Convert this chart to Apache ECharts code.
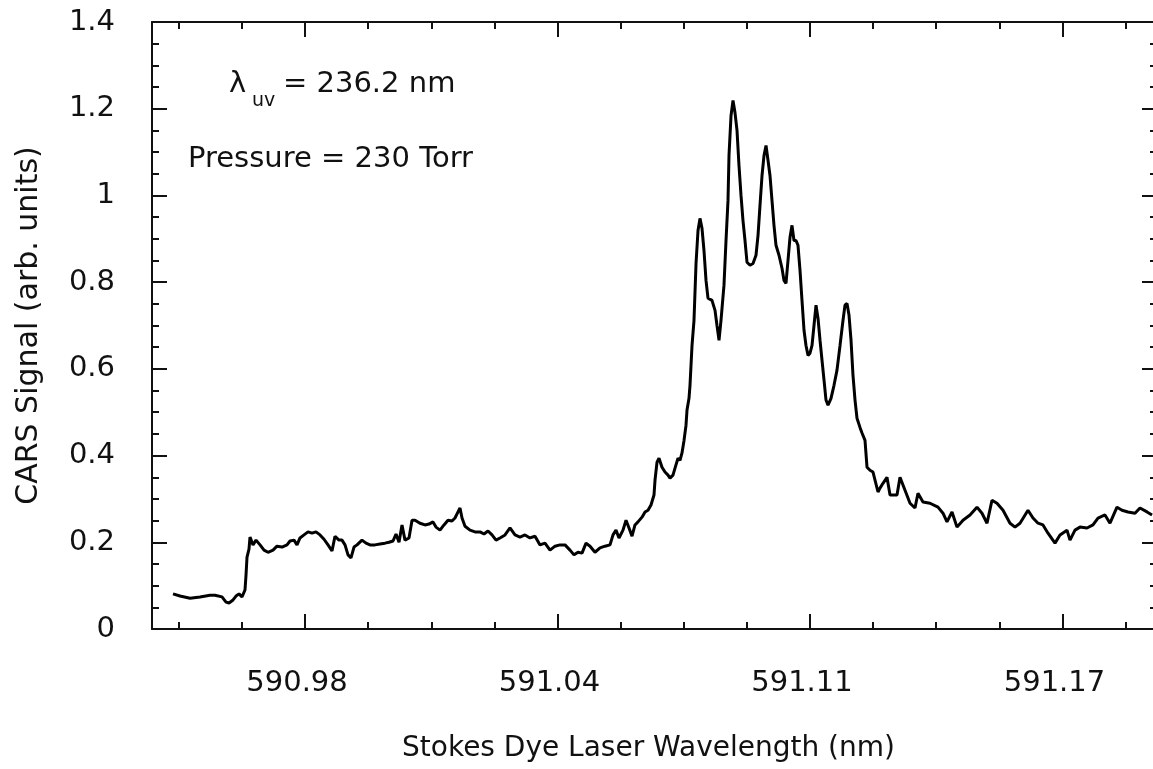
<!DOCTYPE html>
<html>
<head>
<meta charset="utf-8">
<title>CARS Signal vs Stokes Dye Laser Wavelength</title>
<script src="https://cdn.jsdelivr.net/npm/echarts@6/dist/echarts.min.js"></script>
<style>
  html, body { margin: 0; padding: 0; background: #fff; }
  #chart { width: 1153px; height: 769px; }
</style>
</head>
<body>
<div id="chart"></div>
<script>
// Stokes dye laser wavelength (nm)
const wavelength = [
  590.94602, 590.94782, 590.95040, 590.95297, 590.95554, 590.95683, 590.95863, 590.95966, 590.96044, 590.96147,
  590.96224, 590.96301, 590.96378, 590.96455, 590.96481, 590.96507, 590.96558, 590.96584, 590.96661, 590.96739,
  590.96842, 590.96945, 590.97048, 590.97176, 590.97279, 590.97408, 590.97537, 590.97614, 590.97717, 590.97794,
  590.97871, 590.97974, 590.98077, 590.98180, 590.98283, 590.98386, 590.98489, 590.98592, 590.98695, 590.98772,
  590.98875, 590.98952, 590.99030, 590.99107, 590.99184, 590.99261, 590.99339, 590.99467, 590.99570, 590.99673,
  590.99802, 590.99931, 591.00059, 591.00162, 591.00265, 591.00343, 591.00420, 591.00497, 591.00574, 591.00677,
  591.00755, 591.00832, 591.00960, 591.01089, 591.01192, 591.01295, 591.01372, 591.01475, 591.01578, 591.01681,
  591.01784, 591.01861, 591.01939, 591.01990, 591.02042, 591.02119, 591.02248, 591.02376, 591.02505, 591.02608,
  591.02711, 591.02814, 591.02917, 591.03020, 591.03149, 591.03277, 591.03406, 591.03535, 591.03663, 591.03792,
  591.03921, 591.04050, 591.04178, 591.04307, 591.04436, 591.04564, 591.04693, 591.04822, 591.04925, 591.05028,
  591.05131, 591.05234, 591.05337, 591.05465, 591.05594, 591.05723, 591.05852, 591.05929, 591.06006, 591.06083,
  591.06186, 591.06264, 591.06341, 591.06418, 591.06495, 591.06572, 591.06675, 591.06753, 591.06830, 591.06907,
  591.06984, 591.07010, 591.07062, 591.07113, 591.07190, 591.07267, 591.07345, 591.07396, 591.07473, 591.07525,
  591.07602, 591.07654, 591.07705, 591.07757, 591.07808, 591.07834, 591.07885, 591.07911, 591.07963, 591.08014,
  591.08066, 591.08117, 591.08168, 591.08220, 591.08271, 591.08323, 591.08374, 591.08477, 591.08555, 591.08606,
  591.08658, 591.08709, 591.08786, 591.08838, 591.08889, 591.08915, 591.08967, 591.09018, 591.09069, 591.09121,
  591.09172, 591.09224, 591.09275, 591.09327, 591.09378, 591.09456, 591.09533, 591.09610, 591.09662, 591.09713,
  591.09765, 591.09816, 591.09868, 591.09919, 591.09970, 591.10022, 591.10073, 591.10125, 591.10202, 591.10279,
  591.10331, 591.10382, 591.10434, 591.10485, 591.10537, 591.10588, 591.10640, 591.10691, 591.10743, 591.10794,
  591.10846, 591.10897, 591.10949, 591.11000, 591.11052, 591.11103, 591.11155, 591.11206, 591.11258, 591.11309,
  591.11361, 591.11412, 591.11464, 591.11541, 591.11618, 591.11695, 591.11773, 591.11850, 591.11901, 591.11953,
  591.12004, 591.12056, 591.12107, 591.12159, 591.12210, 591.12287, 591.12339, 591.12416, 591.12468, 591.12545,
  591.12622, 591.12751, 591.12802, 591.12879, 591.12982, 591.13060, 591.13240, 591.13317, 591.13446, 591.13575,
  591.13703, 591.13780, 591.13909, 591.14089, 591.14295, 591.14424, 591.14527, 591.14656, 591.14784, 591.14939,
  591.15119, 591.15299, 591.15428, 591.15557, 591.15685, 591.15814, 591.15969, 591.16149, 591.16278, 591.16406,
  591.16612, 591.16741, 591.16870, 591.16998, 591.17127, 591.17307, 591.17436, 591.17616, 591.17693, 591.17822,
  591.17951, 591.18131, 591.18285, 591.18414, 591.18594, 591.18723, 591.18903, 591.19032, 591.19186, 591.19367,
  591.19495, 591.19676, 591.19805
];

// CARS signal (arb. units)
const signal = [
  0.081, 0.076, 0.071, 0.074, 0.078, 0.078, 0.074, 0.062, 0.060, 0.067,
  0.076, 0.081, 0.074, 0.090, 0.124, 0.166, 0.184, 0.212, 0.194, 0.205,
  0.194, 0.182, 0.177, 0.182, 0.191, 0.189, 0.194, 0.203, 0.205, 0.194,
  0.210, 0.217, 0.224, 0.221, 0.224, 0.217, 0.207, 0.194, 0.180, 0.214,
  0.205, 0.205, 0.194, 0.171, 0.164, 0.189, 0.194, 0.205, 0.198, 0.194,
  0.194, 0.196, 0.198, 0.200, 0.203, 0.219, 0.200, 0.240, 0.205, 0.210,
  0.251, 0.251, 0.244, 0.240, 0.242, 0.247, 0.235, 0.228, 0.240, 0.251,
  0.249, 0.256, 0.270, 0.279, 0.256, 0.237, 0.228, 0.224, 0.224, 0.219,
  0.226, 0.217, 0.205, 0.210, 0.217, 0.233, 0.217, 0.212, 0.217, 0.210,
  0.214, 0.194, 0.198, 0.182, 0.191, 0.194, 0.194, 0.182, 0.171, 0.177,
  0.175, 0.198, 0.191, 0.177, 0.187, 0.191, 0.194, 0.217, 0.228, 0.210,
  0.228, 0.251, 0.233, 0.214, 0.240, 0.247, 0.258, 0.270, 0.274, 0.286,
  0.309, 0.343, 0.385, 0.394, 0.373, 0.362, 0.355, 0.348, 0.355, 0.371,
  0.394, 0.389, 0.406, 0.435, 0.470, 0.505, 0.532, 0.562, 0.654, 0.712,
  0.843, 0.919, 0.947, 0.924, 0.873, 0.804, 0.763, 0.758, 0.735, 0.700,
  0.666, 0.712, 0.793, 0.896, 0.988, 1.092, 1.184, 1.219, 1.191, 1.150,
  1.069, 1.000, 0.942, 0.896, 0.846, 0.839, 0.843, 0.862, 0.908, 0.977,
  1.046, 1.092, 1.115, 1.081, 1.046, 0.988, 0.931, 0.885, 0.862, 0.832,
  0.804, 0.797, 0.850, 0.903, 0.931, 0.896, 0.896, 0.885, 0.827, 0.758,
  0.689, 0.654, 0.631, 0.636, 0.654, 0.700, 0.747, 0.717, 0.666, 0.620,
  0.574, 0.528, 0.516, 0.532, 0.562, 0.597, 0.654, 0.712, 0.747, 0.751,
  0.724, 0.666, 0.585, 0.528, 0.486, 0.465, 0.452, 0.435, 0.373, 0.366,
  0.362, 0.316, 0.325, 0.336, 0.350, 0.309, 0.309, 0.350, 0.320, 0.290,
  0.279, 0.313, 0.293, 0.290, 0.281, 0.267, 0.247, 0.270, 0.235, 0.251,
  0.263, 0.281, 0.267, 0.244, 0.297, 0.290, 0.274, 0.244, 0.235, 0.244,
  0.274, 0.256, 0.244, 0.240, 0.221, 0.198, 0.217, 0.228, 0.205, 0.228,
  0.235, 0.233, 0.240, 0.256, 0.263, 0.244, 0.281, 0.274, 0.270, 0.267,
  0.279, 0.270, 0.263
];

// Wavelength axis range and ticks
const xRange = [590.94061, 591.19933];
const xMajorTicks = [590.98, 591.045, 591.11, 591.175];
const xTickLabels = ['590.98', '591.04', '591.11', '591.17'];
const xMinorTicks = [
  590.9475, 590.96375, 590.99625, 591.0125, 591.02875, 591.06125,
  591.0775, 591.09375, 591.12625, 591.1425, 591.15875, 591.19125
];

// Signal axis
const yRange = [0, 1.4];
const yStep = 0.2;

const FONT = '"DejaVu Sans", "Liberation Sans", Arial, sans-serif';
const INK = '#111';

const points = wavelength.map((w, i) => [w, signal[i]]);

function tickLabel(v) {
  const i = xMajorTicks.findIndex(t => Math.abs(t - v) < 1e-6);
  return i >= 0 ? xTickLabels[i] : '';
}

function xAxisDef(position, ticks, len, withLabels) {
  return {
    type: 'value',
    position: position,
    min: xRange[0],
    max: xRange[1],
    splitLine: { show: false },
    axisLine: { show: len > 10, lineStyle: { color: INK, width: 2 } },
    axisTick: {
      show: true, inside: true, length: len,
      customValues: ticks,
      lineStyle: { color: INK, width: 2 }
    },
    axisLabel: withLabels ? {
      show: true,
      customValues: xMajorTicks,
      formatter: tickLabel,
      margin: 40,
      padding: [0, 16, 0, 0],
      color: INK,
      fontFamily: FONT,
      fontSize: 29
    } : { show: false }
  };
}

function yAxisDef(position, withLabels) {
  return {
    type: 'value',
    position: position,
    min: yRange[0],
    max: yRange[1],
    interval: yStep,
    splitLine: { show: false },
    axisLine: { show: true, lineStyle: { color: INK, width: 2 } },
    axisTick: { show: true, inside: true, length: 15, lineStyle: { color: INK, width: 2 } },
    minorTick: { show: true, splitNumber: 4, length: 7, lineStyle: { color: INK, width: 2 } },
    minorSplitLine: { show: false },
    axisLabel: withLabels ? {
      show: true, margin: 37, color: INK, fontFamily: FONT, fontSize: 29
    } : { show: false }
  };
}

const bottomMajor = xAxisDef('bottom', xMajorTicks, 15, true);
bottomMajor.name = 'Stokes Dye Laser Wavelength (nm)';
bottomMajor.nameLocation = 'middle';
bottomMajor.nameGap = 106;
bottomMajor.nameTextStyle = { color: INK, fontFamily: FONT, fontSize: 28, padding: [0, 12, 0, 0] };

const leftAxis = yAxisDef('left', true);
leftAxis.name = 'CARS Signal (arb. units)';
leftAxis.nameLocation = 'middle';
leftAxis.nameGap = 108;
leftAxis.nameTextStyle = { color: INK, fontFamily: FONT, fontSize: 30 };

const chart = echarts.init(document.getElementById('chart'), null, { renderer: 'canvas' });

chart.setOption({
  animation: false,
  backgroundColor: '#fff',
  grid: { left: 152, right: -4, top: 22, bottom: 140, outerBoundsMode: 'none', containLabel: false },
  xAxis: [
    bottomMajor,
    xAxisDef('bottom', xMinorTicks, 7, false),
    xAxisDef('top', xMajorTicks, 15, false),
    xAxisDef('top', xMinorTicks, 7, false)
  ],
  yAxis: [leftAxis, yAxisDef('right', false)],
  graphic: [
    { type: 'text', left: 229, top: 70, style: { text: 'λ', font: '29px ' + FONT, fill: INK } },
    { type: 'text', left: 252, top: 92, style: { text: 'uv', font: '19px ' + FONT, fill: INK } },
    { type: 'text', left: 283, top: 70, style: { text: '= 236.2 nm', font: '29px ' + FONT, fill: INK } },
    { type: 'text', left: 188, top: 145, style: { text: 'Pressure = 230 Torr', font: '29px ' + FONT, fill: INK } }
  ],
  series: [{
    type: 'line',
    xAxisIndex: 0,
    yAxisIndex: 0,
    data: points,
    showSymbol: false,
    symbol: 'none',
    lineStyle: { color: '#000', width: 3 },
    silent: true
  }]
});
</script>
</body>
</html>
